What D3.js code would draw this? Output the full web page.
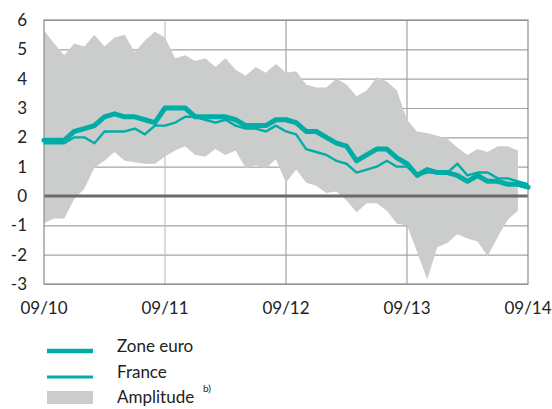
<!DOCTYPE html>
<html><head><meta charset="utf-8">
<script src="https://cdn.jsdelivr.net/npm/d3@7"></script>
<style>
html,body{margin:0;padding:0;background:#fff;}
svg{display:block;font-family:Lato,"Open Sans",sans-serif;}
</style></head>
<body><svg id="c" width="552" height="409"></svg>
<script>
const xTickLabels = ["09/10","09/11","09/12","09/13","09/14"];
const xTickMonths = [0,12,24,36,48];
const yTicks = [6,5,4,3,2,1,0,-1,-2,-3];
const zoneEuro = [1.9,1.9,1.9,2.2,2.3,2.4,2.7,2.8,2.7,2.7,2.6,2.5,3.0,3.0,3.0,2.7,2.7,2.7,2.7,2.6,2.4,2.4,2.4,2.6,2.6,2.5,2.2,2.2,2.0,1.8,1.7,1.2,1.4,1.6,1.6,1.3,1.1,0.7,0.9,0.8,0.8,0.7,0.5,0.7,0.5,0.5,0.4,0.4,0.3];
const france = [1.8,1.8,1.8,2.0,2.0,1.8,2.2,2.2,2.2,2.3,2.1,2.4,2.4,2.5,2.7,2.7,2.6,2.5,2.6,2.4,2.3,2.3,2.2,2.4,2.2,2.1,1.6,1.5,1.4,1.2,1.1,0.8,0.9,1.0,1.2,1.0,1.0,0.7,0.8,0.8,0.8,1.1,0.7,0.8,0.8,0.6,0.6,0.5,0.4];
const ampMax = [5.65,5.2,4.8,5.2,5.1,5.5,5.1,5.4,5.5,4.9,5.3,5.6,5.4,4.7,4.8,4.6,4.7,4.4,4.7,4.3,4.1,4.4,4.2,4.5,4.2,4.25,3.8,3.7,3.7,4.0,3.8,3.4,3.6,4.05,3.9,3.6,2.6,2.2,2.15,2.05,1.95,1.65,1.4,1.6,1.5,1.7,1.7,1.55];
const ampMin = [-0.93,-0.77,-0.77,-0.1,0.25,0.97,1.2,1.5,1.2,1.15,1.1,1.1,1.35,1.55,1.7,1.4,1.35,1.6,1.4,1.55,0.95,1.05,0.95,1.25,0.45,0.9,0.45,0.35,0.1,0.15,-0.15,-0.55,-0.25,-0.25,-0.5,-0.95,-1.0,-1.9,-2.85,-1.75,-1.6,-1.3,-1.45,-1.55,-2.05,-1.4,-0.8,-0.5];
const legendLabels = ["Zone euro","France","Amplitude"];

const teal = "#00ada6", band = "#cbcccc", grid = "#a3a3a3";
const svg = d3.select("#c");
const x = d3.scaleLinear().domain([0,48]).range([44,528]);
const y = d3.scaleLinear().domain([-3,6]).range([284,20]);

// gridlines
svg.append("g").selectAll("line.h").data(yTicks).join("line")
  .attr("x1",x(0)).attr("x2",x(48)).attr("y1",d=>y(d)+0.5).attr("y2",d=>y(d)+0.5)
  .attr("stroke",grid).attr("stroke-width",1.2);
svg.append("g").selectAll("line.v").data(xTickMonths.slice(1,-1)).join("line")
  .attr("x1",d=>x(d)).attr("x2",d=>x(d)).attr("y1",y(6)).attr("y2",y(-3))
  .attr("stroke",(d,i)=>i===0?"#c2c2c2":grid).attr("stroke-width",1.2);

// amplitude band
const bandData = ampMax.map((v,i)=>({i,hi:v,lo:ampMin[i]}));
svg.append("path").datum(bandData)
  .attr("d",d3.area().x(d=>x(d.i)).y0(d=>y(d.lo)).y1(d=>y(d.hi)))
  .attr("fill",band);

// zero line
svg.append("line").attr("x1",x(0)).attr("x2",x(48)).attr("y1",y(0)).attr("y2",y(0))
  .attr("stroke","#6b6b6b").attr("stroke-width",3.2);

// frame
svg.append("rect").attr("x",x(0)).attr("y",y(6)).attr("width",x(48)-x(0)).attr("height",y(-3)-y(6))
  .attr("fill","none").attr("stroke","#8c8c8c").attr("stroke-width",1.2);

// lines
const line = d3.line().x((d,i)=>x(i)).y(d=>y(d));
svg.append("path").datum(zoneEuro).attr("d",line).attr("fill","none")
  .attr("stroke",teal).attr("stroke-width",5).attr("stroke-linejoin","round").attr("stroke-linecap","round");
svg.append("path").datum(france).attr("d",line).attr("fill","none")
  .attr("stroke",teal).attr("stroke-width",2.4).attr("stroke-linejoin","round");

// y axis labels
svg.append("g").selectAll("text").data(yTicks).join("text")
  .attr("x",27).attr("y",d=>y(d)).attr("dy","0.36em").attr("text-anchor","end")
  .attr("font-size",17).attr("fill","#222").text(d=>d);

// x axis labels
svg.append("g").selectAll("text").data(xTickMonths).join("text")
  .attr("x",d=>x(d)).attr("y",314).attr("text-anchor","middle")
  .attr("font-size",17).attr("fill","#222").text((d,i)=>xTickLabels[i]);

// legend
const lg = svg.append("g");
lg.append("line").attr("x1",47).attr("x2",93).attr("y1",351).attr("y2",351).attr("stroke",teal).attr("stroke-width",4.5);
lg.append("line").attr("x1",47).attr("x2",93).attr("y1",377).attr("y2",377).attr("stroke",teal).attr("stroke-width",2.8);
lg.append("rect").attr("x",47).attr("y",391).attr("width",46).attr("height",13).attr("fill",band);
lg.selectAll("text.l").data(legendLabels).join("text")
  .attr("x",117).attr("y",(d,i)=>352+i*25.5).attr("font-size",17).attr("fill","#222").text(d=>d);
lg.append("text").attr("x",203).attr("y",392).attr("font-size",10).attr("fill","#222").text("b)");
</script></body></html>
